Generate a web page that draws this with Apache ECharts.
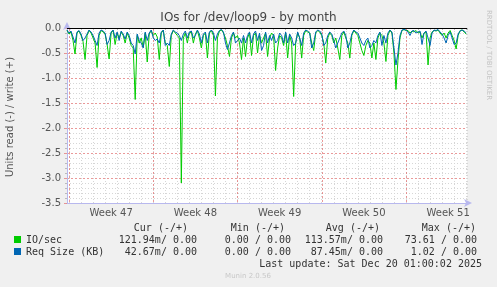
<!DOCTYPE html>
<html>
<head>
<meta charset="utf-8">
<script src="https://cdn.jsdelivr.net/npm/echarts@6/dist/echarts.min.js"></script>
<style>
html,body{margin:0;padding:0;background:#f0f0f0;}
#c{width:497px;height:287px;}
</style>
</head>
<body>
<div id="c"></div>
<script>
// Time axis: samples every 4 hours, day 0 = Monday of Week 47
const startDay = -1 / 6;
const stepDay = 1 / 6;
const endDay = 33.07;
const weekLabels = ['Week 47', 'Week 48', 'Week 49', 'Week 50', 'Week 51'];
const weekLabelPos = [3.5, 10.5, 17.5, 24.5, 31.5];
const yTicks = [-3.5, -3.0, -2.5, -2.0, -1.5, -1.0, -0.5, 0.0];

// IO/sec (read, shown negative)
const ioSec = [
-0.05,-0.12,-0.08,-0.25,-0.52,-0.1,-0.06,-0.15,-0.27,-0.63,
-0.15,-0.05,-0.1,-0.2,-0.3,-0.79,-0.15,-0.05,-0.08,-0.12,
-0.33,-0.62,-0.1,-0.05,-0.33,-0.1,-0.2,-0.08,-0.15,-0.3,
-0.1,-0.2,-0.35,-0.4,-1.43,-0.15,-0.3,-0.2,-0.38,-0.1,
-0.68,-0.12,-0.05,-0.15,-0.1,-0.18,-0.63,-0.1,-0.05,-0.3,
-0.35,-0.77,-0.15,-0.05,-0.1,-0.15,-0.2,-3.1,-0.2,-0.1,
-0.3,-0.1,-0.08,-0.3,-0.12,-0.05,-0.2,-0.4,-0.15,-0.1,
-0.6,-0.1,-0.05,-0.15,-1.36,-0.2,-0.06,-0.04,-0.1,-0.2,
-0.35,-0.57,-0.2,-0.1,-0.2,-0.15,-0.3,-0.63,-0.2,-0.57,
-0.2,-0.1,-0.55,-0.15,-0.1,-0.5,-0.15,-0.3,-0.2,-0.1,
-0.57,-0.2,-0.1,-0.15,-0.85,-0.4,-0.15,-0.2,-0.35,-0.1,
-0.6,-0.15,-0.3,-1.37,-0.3,-0.1,-0.2,-0.6,-0.15,-0.05,
-0.08,-0.1,-0.3,-0.45,-0.1,-0.05,-0.08,-0.15,-0.3,-0.7,
-0.2,-0.1,-0.15,-0.3,-0.2,-0.4,-0.63,-0.15,-0.08,-0.2,
-0.3,-0.6,-0.15,-0.05,-0.1,-0.15,-0.3,-0.45,-0.55,-0.35,
-0.25,-0.3,-0.6,-0.3,-0.63,-0.2,-0.1,-0.15,-0.3,-0.67,
-0.15,-0.05,-0.1,-0.5,-1.23,-0.65,-0.2,-0.05,-0.03,-0.05,
-0.05,-0.1,-0.06,-0.08,-0.05,-0.1,-0.08,-0.2,-0.1,-0.08,
-0.74,-0.2,-0.08,-0.05,-0.06,-0.04,-0.1,-0.15,-0.1,-0.2,
-0.1,-0.05,-0.15,-0.25,-0.42,-0.15,-0.05,-0.04,-0.08,-0.12
];

// Req Size (KB) (read, shown negative)
const reqSize = [
-0.04,-0.1,-0.06,-0.18,-0.3,-0.08,-0.05,-0.12,-0.25,-0.2,
-0.12,-0.04,-0.08,-0.15,-0.25,-0.35,-0.1,-0.04,-0.06,-0.1,
-0.33,-0.25,-0.08,-0.04,-0.2,-0.08,-0.25,-0.06,-0.12,-0.22,
-0.08,-0.15,-0.3,-0.35,-0.52,-0.12,-0.25,-0.3,-0.4,-0.08,
-0.25,-0.1,-0.04,-0.2,-0.25,-0.22,-0.3,-0.08,-0.04,-0.35,
-0.3,-0.35,-0.12,-0.04,-0.08,-0.1,-0.15,-0.25,-0.12,-0.06,
-0.2,-0.08,-0.06,-0.2,-0.15,-0.04,-0.12,-0.3,-0.12,-0.08,
-0.3,-0.08,-0.04,-0.1,-0.25,-0.12,-0.05,-0.03,-0.08,-0.3,
-0.43,-0.3,-0.15,-0.08,-0.3,-0.25,-0.2,-0.3,-0.15,-0.3,
-0.15,-0.08,-0.3,-0.12,-0.06,-0.25,-0.1,-0.45,-0.35,-0.08,
-0.3,-0.15,-0.25,-0.12,-0.3,-0.25,-0.1,-0.15,-0.3,-0.08,
-0.3,-0.12,-0.2,-0.35,-0.3,-0.08,-0.2,-0.35,-0.1,-0.04,
-0.06,-0.1,-0.4,-0.3,-0.08,-0.04,-0.06,-0.12,-0.35,-0.3,
-0.15,-0.08,-0.12,-0.25,-0.4,-0.3,-0.2,-0.1,-0.06,-0.15,
-0.4,-0.3,-0.12,-0.04,-0.08,-0.1,-0.2,-0.3,-0.35,-0.25,
-0.2,-0.4,-0.35,-0.25,-0.3,-0.15,-0.08,-0.35,-0.15,-0.3,
-0.1,-0.04,-0.08,-0.4,-0.74,-0.5,-0.15,-0.04,-0.03,-0.04,
-0.08,-0.15,-0.06,-0.05,-0.1,-0.08,-0.06,-0.33,-0.1,-0.06,
-0.2,-0.35,-0.1,-0.04,-0.05,-0.03,-0.08,-0.12,-0.2,-0.3,
-0.15,-0.08,-0.2,-0.33,-0.3,-0.12,-0.06,-0.04,-0.06,-0.1
];

const legendHeader = ['Cur (-/+)', 'Min (-/+)', 'Avg (-/+)', 'Max (-/+)'];
const ioSecStats = ['121.94m/ 0.00', '0.00 / 0.00', '113.57m/ 0.00', '73.61 / 0.00'];
const reqSizeStats = ['42.67m/ 0.00', '0.00 / 0.00', '87.45m/ 0.00', '1.02 / 0.00'];
const lastUpdate = 'Last update: Sat Dec 20 01:00:02 2025';

const GREEN = '#00cc00', BLUE = '#0066b3';
const AXIS = '#b8b8ee';
const MAJOR = 'rgba(225,110,110,0.7)';
const MINOR = '#d6d6d6';

const toPairs = arr => arr.map((v, i) => [startDay + i * stepDay, v]);

const chart = echarts.init(document.getElementById('c'), null, {renderer: 'canvas'});

const headerX = [188, 285, 380, 476];
const valueX = [197, 291, 383, 477];
const mono = '10px "DejaVu Sans Mono", monospace';

const graphics = [
  {type: 'text', left: 'center', top: 12, style: {text: 'IOs for /dev/loop9 - by month', font: '12px "DejaVu Sans"', fill: '#444'}},
  {type: 'text', x: 10, y: 117, rotation: Math.PI / 2, style: {text: 'Units read (-) / write (+)', font: '10px "DejaVu Sans"', fill: '#555', align: 'center', verticalAlign: 'middle'}},
  {type: 'text', x: 489, y: 55, rotation: -Math.PI / 2, style: {text: 'RRDTOOL / TOBI OETIKER', font: '7px "DejaVu Sans"', fill: '#c4c4c4', align: 'center', verticalAlign: 'middle'}},
  {type: 'rect', shape: {x: 14, y: 236, width: 7, height: 7}, style: {fill: GREEN}},
  {type: 'rect', shape: {x: 14, y: 248, width: 7, height: 7}, style: {fill: BLUE}},
  {type: 'text', x: 26, y: 240, style: {text: 'IO/sec', font: mono, fill: '#333', align: 'left', verticalAlign: 'middle'}},
  {type: 'text', x: 26, y: 252, style: {text: 'Req Size (KB)', font: mono, fill: '#333', align: 'left', verticalAlign: 'middle'}},
  {type: 'text', x: 482, y: 264, style: {text: lastUpdate, font: mono, fill: '#333', align: 'right', verticalAlign: 'middle'}},
  {type: 'text', x: 248, y: 276, style: {text: 'Munin 2.0.56', font: '7px "DejaVu Sans"', fill: '#c8c8c8', align: 'center', verticalAlign: 'middle'}}
];
legendHeader.forEach((t, k) => graphics.push({type: 'text', x: headerX[k], y: 228, style: {text: t, font: mono, fill: '#333', align: 'right', verticalAlign: 'middle'}}));
ioSecStats.forEach((t, k) => graphics.push({type: 'text', x: valueX[k], y: 240, style: {text: t, font: mono, fill: '#333', align: 'right', verticalAlign: 'middle'}}));
reqSizeStats.forEach((t, k) => graphics.push({type: 'text', x: valueX[k], y: 252, style: {text: t, font: mono, fill: '#333', align: 'right', verticalAlign: 'middle'}}));

const option = {
  backgroundColor: '#f0f0f0',
  animation: false,
  grid: [
    {left: 67, right: 30, top: 28, bottom: 84, show: true, backgroundColor: '#ffffff', borderWidth: 0},
    {left: 69, right: 30, top: 28, bottom: 84},
    {left: 69, right: 91, top: 28, bottom: 84}
  ],
  xAxis: [
    {gridIndex: 0, type: 'value', min: startDay, max: endDay,
     axisLine: {show: true, onZero: false, lineStyle: {color: AXIS}, symbol: ['none', 'arrow'], symbolSize: [6, 8], symbolOffset: [0, 5]},
     axisTick: {show: false}, axisLabel: {show: false}, splitLine: {show: false}},
    {gridIndex: 1, type: 'value', min: 0, max: endDay, interval: 1,
     axisLine: {show: false},
     axisTick: {show: true, length: 2, lineStyle: {color: '#bbbbbb'}},
     axisLabel: {show: true, customValues: weekLabelPos, formatter: v => weekLabels[weekLabelPos.indexOf(v)] || '', color: '#555', fontFamily: 'DejaVu Sans', fontSize: 10, margin: 5},
     splitLine: {show: true, lineStyle: {color: MINOR, type: [1, 2], width: 1}}},
    {gridIndex: 2, type: 'value', min: 0, max: 28, interval: 7,
     axisLine: {show: false},
     axisTick: {show: true, length: 3, lineStyle: {color: MAJOR}},
     axisLabel: {show: false},
     splitLine: {show: true, lineStyle: {color: MAJOR, type: [2, 2], width: 1}}}
  ],
  yAxis: [
    {gridIndex: 0, type: 'value', min: yTicks[0], max: yTicks[yTicks.length - 1], interval: 0.5,
     axisLine: {show: true, onZero: false, lineStyle: {color: AXIS}, symbol: ['none', 'arrow'], symbolSize: [6, 8], symbolOffset: [0, 6]},
     axisTick: {show: true, length: 3, lineStyle: {color: MAJOR}},
     minorTick: {show: true, splitNumber: 5, length: 2, lineStyle: {color: '#bbbbbb'}},
     axisLabel: {formatter: v => v.toFixed(1), color: '#555', fontFamily: 'DejaVu Sans', fontSize: 10, margin: 6},
     splitLine: {show: true, lineStyle: {color: MAJOR, type: [2, 2], width: 1}},
     minorSplitLine: {show: true, lineStyle: {color: MINOR, type: [1, 2], width: 1}}},
    {gridIndex: 1, type: 'value', min: -3.5, max: 0, show: false},
    {gridIndex: 2, type: 'value', min: -3.5, max: 0, show: false}
  ],
  graphic: graphics,
  series: [
    {name: 'IO/sec', type: 'line', xAxisIndex: 0, yAxisIndex: 0, data: toPairs(ioSec), showSymbol: false, symbol: 'none',
     lineStyle: {color: GREEN, width: 1}, itemStyle: {color: GREEN}, z: 3},
    {name: 'Req Size (KB)', type: 'line', xAxisIndex: 0, yAxisIndex: 0, data: toPairs(reqSize), showSymbol: false, symbol: 'none',
     lineStyle: {color: BLUE, width: 1}, itemStyle: {color: BLUE}, z: 4,
     markLine: {silent: true, symbol: 'none', label: {show: false}, lineStyle: {color: '#000', width: 1.2, type: 'solid'}, data: [{yAxis: 0}]}}
  ]
};
chart.setOption(option);
</script>
</body>
</html>
